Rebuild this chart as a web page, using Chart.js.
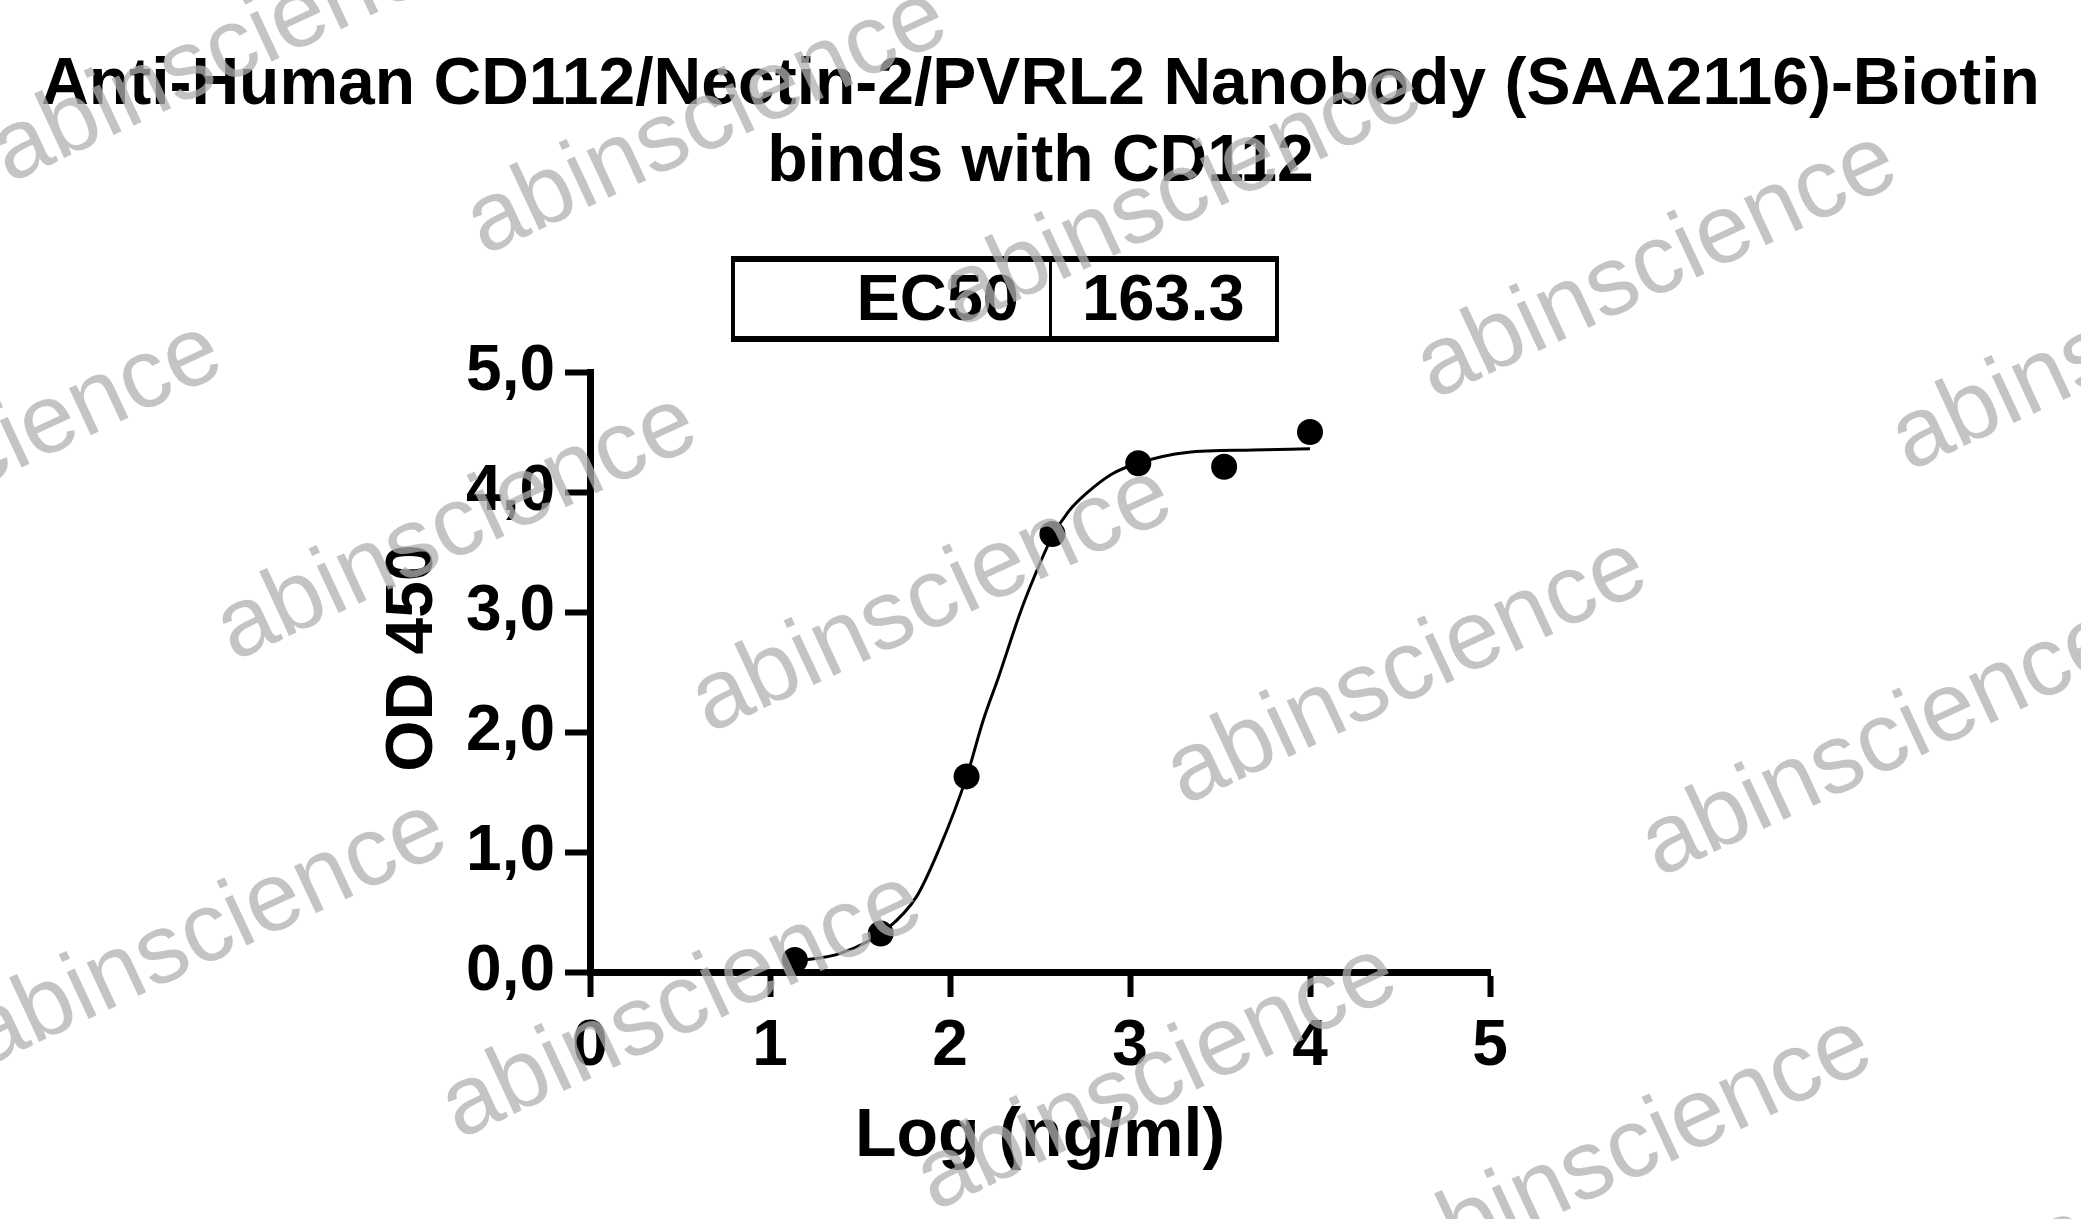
<!DOCTYPE html>
<html>
<head>
<meta charset="utf-8">
<script src="https://cdn.jsdelivr.net/npm/chart.js@4/dist/chart.umd.min.js"></script>
<style>
  html, body { margin: 0; padding: 0; background: #fff; }
  canvas { display: block; }
</style>
</head>
<body>
<canvas id="ec50-chart" width="2081" height="1219"></canvas>
<script>
// Measured points: log10 concentration (ng/ml) vs OD 450
const pointLogConc = [1.138, 1.615, 2.092, 2.569, 3.046, 3.523, 4.0]
const pointOD = [0.10, 0.32, 1.63, 3.65, 4.24, 4.21, 4.50]

// Fitted curve
const curveLogConc = [1.138, 1.39, 1.65, 1.815, 1.944, 2.093, 2.185, 2.268, 2.389, 2.47, 2.565, 2.66, 2.759, 2.9, 3.043, 3.315, 3.685, 4.0]
const curveOD = [0.09, 0.155, 0.36, 0.63, 1.04, 1.63, 2.1, 2.45, 2.99, 3.3, 3.62, 3.84, 3.99, 4.15, 4.24, 4.33, 4.35, 4.36]

const titleLines = ['Anti-Human CD112/Nectin-2/PVRL2 Nanobody (SAA2116)-Biotin', 'binds with CD112']
const ec50Label = 'EC50'
const ec50Value = '163.3'
const xTitle = 'Log (ng/ml)'
const yTitle = 'OD 450'
const watermark = 'abinscience'

const FONT = '"Liberation Sans", Arial, Helvetica, sans-serif'

const toXY = (xs, ys) => xs.map((x, i) => ({ x: x, y: ys[i] }))

/*
 * Title, EC50 table, y title and watermark are drawn straight on the canvas
**/
const decorations = {
  id: 'decorations',
  afterDraw(chart) {
    const ctx = chart.ctx
    const cx = 1040.5

    ctx.save()
    ctx.fillStyle = '#000'
    ctx.textAlign = 'center'
    ctx.textBaseline = 'alphabetic'
    ctx.font = `bold 66px ${FONT}`
    ctx.fillText(titleLines[0], cx, 104)
    ctx.fillText(titleLines[1], cx, 181)

    // EC50 box
    const box = { left: 731, right: 1279, top: 256, bottom: 342, split: 1050 }
    ctx.fillRect(box.left, box.top, box.right - box.left, 6)
    ctx.fillRect(box.left, box.bottom - 6, box.right - box.left, 6)
    ctx.fillRect(box.left, box.top, 4, box.bottom - box.top)
    ctx.fillRect(box.right - 4, box.top, 4, box.bottom - box.top)
    ctx.fillRect(box.split - 1, box.top, 3, box.bottom - box.top)

    ctx.font = `bold 65px ${FONT}`
    ctx.textAlign = 'right'
    ctx.fillText(ec50Label, 1019, 320)
    ctx.textAlign = 'left'
    ctx.fillText(ec50Value, 1082, 320)

    // y axis title, rotated
    ctx.save()
    ctx.translate(432, 658)
    ctx.rotate(-Math.PI / 2)
    ctx.textAlign = 'center'
    ctx.font = `bold 66px ${FONT}`
    ctx.fillText(yTitle, 0, 0)
    ctx.restore()

    // watermark grid
    ctx.font = `98px ${FONT}`
    ctx.fillStyle = 'rgba(176, 176, 176, 0.75)'
    ctx.textAlign = 'center'
    ctx.textBaseline = 'middle'
    const base = { x: 932, y: 600 }
    const u = { x: 475, y: 72 }
    const v = { x: 225, y: 478 }
    for (let j = -2; j <= 2; j++) {
      for (let i = -3; i <= 3; i++) {
        const x = base.x + i * u.x + j * v.x
        const y = base.y + i * u.y + j * v.y
        if (x < -300 || x > 2400 || y < -160 || y > 1300) continue
        ctx.save()
        ctx.translate(x, y)
        ctx.rotate(-25 * Math.PI / 180)
        ctx.fillText(watermark, 0, 0)
        ctx.restore()
      }
    }
    ctx.restore()
  }
}

const axisLines = {
  grid: {
    drawOnChartArea: false,
    drawTicks: true,
    tickLength: 25,
    tickWidth: 6,
    tickColor: '#000'
  },
  border: { display: true, width: 7, color: '#000' }
}

const config = {
  type: 'scatter',
  data: {
    datasets: [
      {
        label: 'OD 450',
        data: toXY(pointLogConc, pointOD),
        pointRadius: 13,
        pointHoverRadius: 13,
        backgroundColor: '#000',
        borderColor: '#000',
        borderWidth: 0
      },
      {
        label: 'fit',
        data: toXY(curveLogConc, curveOD),
        showLine: true,
        pointRadius: 0,
        borderColor: '#000',
        borderWidth: 3,
        cubicInterpolationMode: 'monotone',
        fill: false
      }
    ]
  },
  options: {
    responsive: false,
    animation: false,
    devicePixelRatio: 1,
    layout: { padding: { left: 360, right: 591, top: 372, bottom: 0 } },
    plugins: {
      legend: { display: false },
      tooltip: { enabled: false },
      title: { display: false }
    },
    scales: {
      x: {
        type: 'linear',
        min: 0,
        max: 5,
        ...axisLines,
        ticks: {
          stepSize: 1,
          padding: 12,
          color: '#000',
          font: { family: FONT, size: 64, weight: 'bold' },
          callback: (value) => `${value}`
        },
        title: {
          display: true,
          text: xTitle,
          color: '#000',
          font: { family: FONT, size: 68, weight: 'bold' },
          padding: { top: 0, bottom: 41 }
        },
        afterFit: (scale) => { scale.height = 247 }
      },
      y: {
        min: 0,
        max: 5,
        ...axisLines,
        ticks: {
          stepSize: 1,
          padding: 10,
          color: '#000',
          font: { family: FONT, size: 64, weight: 'bold' },
          callback: (value) => value.toFixed(1).replace('.', ',')
        },
        afterFit: (scale) => { scale.width = 230 }
      }
    }
  },
  plugins: [decorations]
}

new Chart(document.getElementById('ec50-chart'), config)
</script>
</body>
</html>
